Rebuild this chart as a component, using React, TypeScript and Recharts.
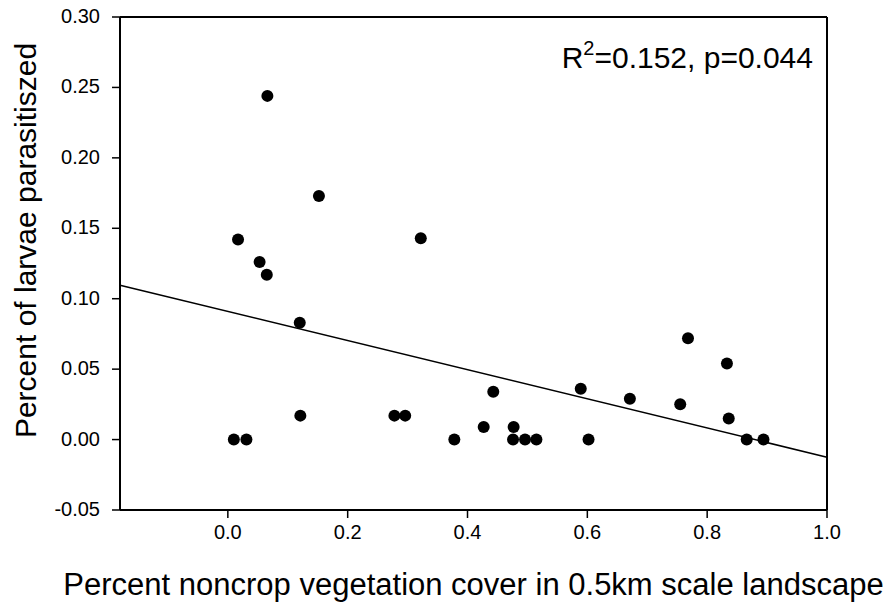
import React from 'react';
import {
  ScatterChart,
  Scatter,
  XAxis,
  YAxis,
  ReferenceLine,
} from 'recharts';

// proportion of noncrop vegetation (x) vs proportion of larvae parasitised (y)
const noncropCover = [
  0.010, 0.031, 0.017, 0.066, 0.053, 0.065, 0.120, 0.152, 0.121, 0.278,
  0.296, 0.322, 0.378, 0.427, 0.443, 0.476, 0.477, 0.496, 0.515, 0.589,
  0.602, 0.671, 0.755, 0.768, 0.833, 0.836, 0.866, 0.894,
];
const parasitised = [
  0.000, 0.000, 0.142, 0.244, 0.126, 0.117, 0.083, 0.173, 0.017, 0.017,
  0.017, 0.143, 0.000, 0.009, 0.034, 0.000, 0.009, 0.000, 0.000, 0.036,
  0.000, 0.029, 0.025, 0.072, 0.054, 0.015, 0.000, 0.000,
];

// fitted regression line, end points
const fitX = [-0.18, 1.0];
const fitY = [0.1096, -0.0125];

const xDomain = [-0.18, 1.0];
const yDomain = [-0.05, 0.3];
const xTicks = [0, 0.2, 0.4, 0.6, 0.8, 1.0];
const yTicks = [-0.05, 0, 0.05, 0.1, 0.15, 0.2, 0.25, 0.3];

const xTitle = 'Percent noncrop vegetation cover in 0.5km scale landscape';
const yTitle = 'Percent of larvae parasitiszed';

const points = noncropCover.map((x, i) => ({ x, y: parasitised[i] }));
const font = 'Arial, "Liberation Sans", sans-serif';

const XTick = (p: any) => (
  <text x={p.x} y={p.y + 15} textAnchor="middle" fontSize={20} fontFamily={font} fill="#000">
    {Number(p.payload.value).toFixed(1)}
  </text>
);

const YTick = (p: any) => (
  <text x={p.x} y={p.y + 6} textAnchor="end" fontSize={20} fontFamily={font} fill="#000">
    {Number(p.payload.value).toFixed(2)}
  </text>
);

export default function App() {
  // pull the svg up over the body margin so the top tick label has room
  return (
    <div style={{ marginTop: -8 }}>
      <ScatterChart
        width={884}
        height={603}
        margin={{ top: 17, right: 65, left: 0, bottom: 0 }}
      >
        <XAxis
          type="number"
          dataKey="x"
          domain={xDomain}
          ticks={xTicks}
          height={93}
          tickSize={8}
          tickMargin={6}
          axisLine={{ stroke: '#000', strokeWidth: 2 }}
          tickLine={{ stroke: '#000', strokeWidth: 1.5 }}
          tick={<XTick />}
          allowDataOverflow
          label={{
            content: (props: any) => {
              const vb = props.viewBox;
              return (
                <text x={vb.x + vb.width / 2} y={595} textAnchor="middle" fontSize={31} fontFamily={font} fill="#000">
                  {xTitle}
                </text>
              );
            },
          }}
        />
        <YAxis
          type="number"
          dataKey="y"
          domain={yDomain}
          ticks={yTicks}
          width={112}
          tickSize={8}
          tickMargin={12}
          axisLine={{ stroke: '#000', strokeWidth: 2 }}
          tickLine={{ stroke: '#000', strokeWidth: 1.5 }}
          tick={<YTick />}
          allowDataOverflow
          label={{
            content: (props: any) => {
              const vb = props.viewBox;
              const cx = 17;
              const cy = vb.y + vb.height / 2 - 23;
              return (
                <text
                  x={cx}
                  y={cy}
                  transform={`rotate(-90 ${cx} ${cy})`}
                  textAnchor="middle"
                  dominantBaseline="central"
                  fontSize={30}
                  fontFamily={font}
                  fill="#000"
                >
                  {yTitle}
                </text>
              );
            },
          }}
        />
        {/* top and right edges of the frame */}
        <ReferenceLine
          y={yDomain[1]}
          stroke="#000"
          strokeWidth={2}
          label={{
            content: () => (
              <text x={805} y={68} textAnchor="end" fontSize={30} fontFamily={font} fill="#000">
                R<tspan fontSize={20} dy={-13}>2</tspan>
                <tspan dy={13}>=0.152, p=0.044</tspan>
              </text>
            ),
          }}
        />
        <ReferenceLine x={xDomain[1]} stroke="#000" strokeWidth={2} />
        <ReferenceLine
          segment={[
            { x: fitX[0], y: fitY[0] },
            { x: fitX[1], y: fitY[1] },
          ]}
          stroke="#000"
          strokeWidth={1.5}
        />
        <Scatter
          data={points}
          fill="#000"
          isAnimationActive={false}
          shape={(p: any) => <circle cx={p.cx} cy={p.cy} r={6} fill="#000" />}
        />
      </ScatterChart>
    </div>
  );
}
